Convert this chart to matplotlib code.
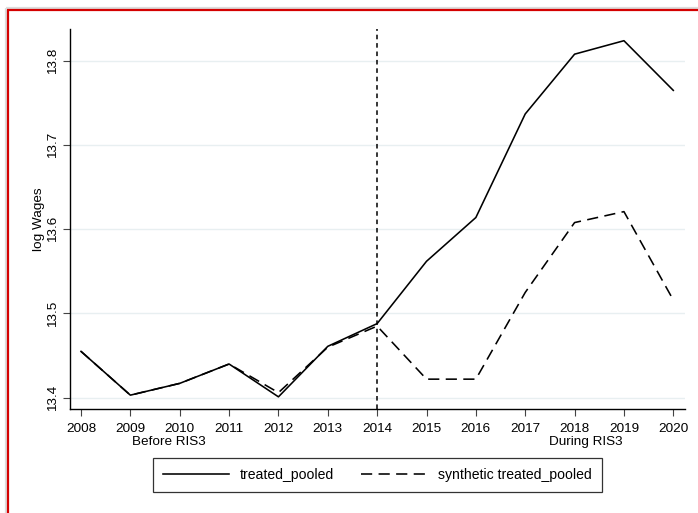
import matplotlib
matplotlib.use("Agg")
import matplotlib.pyplot as plt
from matplotlib.lines import Line2D

plt.rcParams["font.family"] = ["Liberation Sans", "DejaVu Sans"]

years = [2008, 2009, 2010, 2011, 2012, 2013, 2014, 2015, 2016, 2017, 2018, 2019, 2020]
treated = [13.455, 13.403, 13.417, 13.440, 13.401, 13.461, 13.488,
           13.562, 13.614, 13.737, 13.808, 13.824, 13.765]
synthetic = [13.455, 13.403, 13.417, 13.440, 13.406, 13.460, 13.485,
             13.422, 13.422, 13.525, 13.608, 13.621, 13.516]
yticks = [13.4, 13.5, 13.6, 13.7, 13.8]
treat_year = 2014
series_labels = ["treated_pooled", "synthetic treated_pooled"]
period_labels = ["Before RIS3", "During RIS3"]
period_pos = [2009.78, 2018.23]

W, H = 698, 513
fig = plt.figure(figsize=(W / 100, H / 100), dpi=100)
fig.patch.set_facecolor("white")

# outer frame: light grey band, then red border along the top and left
def fig_line(xs, ys, color, lw):
    fig.add_artist(Line2D([x / W for x in xs], [1 - y / H for y in ys],
                          transform=fig.transFigure, color=color, linewidth=lw,
                          solid_capstyle="butt"))

fig_line([5.8, 5.8], [H, 7.8], "#dcdcdc", 1.6)
fig_line([5.8, W], [7.8, 7.8], "#dcdcdc", 1.6)
fig_line([8.0, 8.0], [H, 10.0], "#d40000", 1.6)
fig_line([7.4, W], [10.0, 10.0], "#d40000", 1.6)

ax = fig.add_axes([70 / W, 1 - 409.3 / H, (684.7 - 70) / W, (409.3 - 29) / H])
ax.set_xlim(2007.777, 2020.231)
ax.set_ylim(13.3862, 13.8379)

for t in yticks:
    ax.axhline(t, color="#e8eff1", linewidth=1.0, zorder=0)

ax.plot(years, treated, color="black", linewidth=1.15, zorder=3)
ax.plot(years, synthetic, color="black", linewidth=1.15, linestyle=(0, (7, 4)), zorder=3)
ax.axvline(treat_year, color="black", linewidth=1.1, linestyle=(0, (3, 2.5)), zorder=2)

ax.spines["top"].set_visible(False)
ax.spines["right"].set_visible(False)
for s in ("left", "bottom"):
    ax.spines[s].set_linewidth(1.0)
    ax.spines[s].set_color("black")

ax.set_xticks(years)
ax.set_xticklabels([str(y) for y in years])
ax.set_yticks(yticks)
ax.set_yticklabels([f"{t:.1f}" for t in yticks], rotation=90, va="center")
ax.tick_params(axis="x", length=4.7, width=0.8, color="#444444", pad=5, labelsize=9.7)
ax.tick_params(axis="y", length=5, width=0.8, color="#444444", pad=3, labelsize=9.7)

ax.set_ylabel("log Wages", fontsize=9.7)
ax.yaxis.set_label_coords(-0.041, 0.5)

for txt, xpos in zip(period_labels, period_pos):
    ax.text(xpos, (409.3 - 441.7) / (409.3 - 29), txt, transform=ax.get_xaxis_transform(),
            ha="center", va="center", fontsize=9.7)

handles = [Line2D([], [], color="black", linewidth=1.15),
           Line2D([], [], color="black", linewidth=1.15, linestyle=(0, (7, 4)))]
leg = fig.legend(handles, series_labels, loc="center", ncol=2,
                 bbox_to_anchor=(377.5 / W, 1 - 475 / H), fontsize=10.1,
                 frameon=True, fancybox=False, handlelength=4.7, handletextpad=0.8,
                 columnspacing=1.9, borderpad=0.7)
leg.get_frame().set_edgecolor("black")
leg.get_frame().set_linewidth(0.9)

fig.savefig("out.png", dpi=100)
